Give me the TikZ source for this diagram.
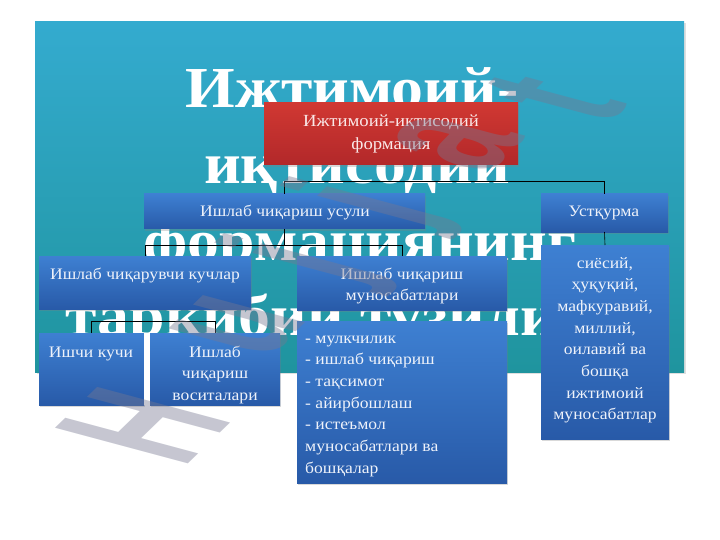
\documentclass[tikz,border=0pt]{standalone}
\usepackage{fontspec}
\setmainfont{Liberation Serif}[FakeStretch=1.1]
\newfontfamily\wmfont{Liberation Sans}
\usetikzlibrary{shadows,calc}
\definecolor{slidetop}{RGB}{52,171,207}
\definecolor{slidebot}{RGB}{31,148,158}
\definecolor{bluetop}{RGB}{62,128,210}
\definecolor{bluebot}{RGB}{40,90,168}
\definecolor{redtop}{RGB}{208,56,50}
\definecolor{redbot}{RGB}{178,40,42}
\definecolor{boxtext}{RGB}{238,242,250}
\definecolor{redtext}{RGB}{250,232,232}
\definecolor{wmcol}{RGB}{118,120,145}
\begin{document}
\begin{tikzpicture}[x=1pt,y=-1pt,
  bbox/.style={draw=none, inner sep=0pt, outer sep=0pt, anchor=north west,
    drop shadow={shadow xshift=1pt, shadow yshift=-2pt, opacity=0.3}},
  bluebox/.style={bbox, top color=bluetop, bottom color=bluebot},
  redbox/.style={bbox, top color=redtop, bottom color=redbot},
  btext/.style={text=boxtext, font=\fontsize{16}{21.7}\selectfont, align=center, anchor=base, inner sep=0pt},
  ltext/.style={btext, align=left, anchor=base west},
  title/.style={text=white, font=\bfseries\fontsize{58}{70}\selectfont, anchor=base, inner sep=0pt},
  conn/.style={draw=black, line width=0.6pt},
  wm/.style={text=wmcol, opacity=0.42, font=\wmfont\bfseries\fontsize{100}{100}\selectfont, inner sep=0pt, transform shape}
]
\useasboundingbox (0,0) rectangle (720,540);
% slide
\node[draw=none, inner sep=0pt, anchor=north west, minimum width=649pt, minimum height=351pt,
  top color=slidetop, bottom color=slidebot,
  drop shadow={shadow xshift=1.5pt, shadow yshift=-1.5pt, opacity=0.25}] (slide) at (35,21) {};
% title
\node[title] (T1) at (352,108) {Ижтимоий-};
\node[title] (T2) at (357,184) {иқтисодий};
\node[title] (T3) at (360,260) {формациянинг};
\node[title] (T4) at (357,335) {таркибий тузилиши};
% boxes
\node[redbox, minimum width=254pt, minimum height=62pt] (b1) at (264,103) {};
\node[bluebox, minimum width=281pt, minimum height=35pt] (b2) at (144,194) {};
\node[bluebox, minimum width=127pt, minimum height=38pt] (b3) at (541,194) {};
\node[bluebox, minimum width=212pt, minimum height=53pt] (b4) at (39,256) {};
\node[bluebox, minimum width=210pt, minimum height=54pt] (b5) at (297,256) {};
\node[bluebox, minimum width=128pt, minimum height=194pt] (b6) at (541,245) {};
\node[bluebox, minimum width=105pt, minimum height=72pt] (b7) at (39,333) {};
\node[bluebox, minimum width=130pt, minimum height=72pt] (b8) at (150,333) {};
\node[bluebox, minimum width=210pt, minimum height=162pt] (b9) at (297,321) {};
\fill[white] (b7.north east) rectangle (b8.south west);
% box texts (anchor = baseline of the last line)
\node[btext, text=redtext, font=\fontsize{17}{23}\selectfont] (t1) at (391,150) {Ижтимоий-иқтисодий\\формация};
\node[btext] (t2) at (285,217) {Ишлаб чиқариш усули};
\node[btext] (t3) at (604,217) {Устқурма};
\node[btext] (t4) at (145,279) {Ишлаб чиқарувчи кучлар};
\node[btext] (t5) at (402,300.7) {Ишлаб чиқариш\\муносабатлари};
\node[btext] (t6) at (605,419.9) {сиёсий,\\ҳуқуқий,\\мафкуравий,\\миллий,\\оилавий ва\\бошқа\\ижтимоий\\муносабатлар};
\node[btext] (t7) at (91,357) {Ишчи кучи};
\node[btext] (t8) at (215,400.4) {Ишлаб\\чиқариш\\воситалари};
\node[ltext] (t9) at (305,473.2) {- мулкчилик\\- ишлаб чиқариш\\- тақсимот\\- айирбошлаш\\- истеъмол\\муносабатлари ва\\бошқалар};
% connectors
\coordinate (j1) at (0,181);
\coordinate (j2) at (0,245);
\coordinate (j3) at (0,321);
\draw[conn] (b2.north) |- (b3.north |- j1) -- (b3.north);
\draw[conn] (b2.south) -- (b2.south |- j2);
\draw[conn] (b4.north) |- (b5.north |- j2) -- (b5.north);
\draw[conn] (b3.south) -- (b6.north);
\draw[conn] (b7.north) |- (b8.north |- j3) -- (b8.north);
% watermark
\begin{scope}[shift={(143,426)}, cm={0.719,0.695,-1.932,0.518,(0,0)}]
  \node[wm] (w1) at (0,0) {H};
\end{scope}
\begin{scope}[shift={(238,326)}, cm={0.719,0.695,-1.932,0.518,(0,0)}]
  \node[wm] (w2) at (0,0) {u};
\end{scope}
\begin{scope}[shift={(310,262)}, cm={0.719,0.695,-1.932,0.518,(0,0)}]
  \node[wm] (w3) at (0,0) {j};
\end{scope}
\begin{scope}[shift={(375,205)}, cm={0.719,0.695,-1.932,0.518,(0,0)}]
  \node[wm] (w4) at (0,0) {j};
\end{scope}
\begin{scope}[shift={(455,142)}, cm={0.719,0.695,-1.932,0.518,(0,0)}]
  \node[wm] (w5) at (0,0) {a};
\end{scope}
\begin{scope}[shift={(555,98)}, cm={0.719,0.695,-1.932,0.518,(0,0)}]
  \node[wm] (w6) at (0,0) {t};
\end{scope}
\end{tikzpicture}
\end{document}
